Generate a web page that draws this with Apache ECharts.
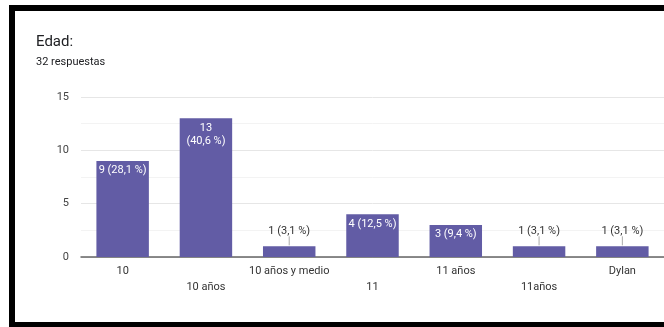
<!DOCTYPE html>
<html>
<head>
<meta charset="utf-8">
<script src="https://cdn.jsdelivr.net/npm/echarts@6/dist/echarts.min.js"></script>
<style>
  html, body { margin: 0; padding: 0; background: #fff; overflow: hidden; }
  #chart { position: absolute; left: 0; top: 0; width: 664px; height: 327px; }
  #frame {
    position: absolute; left: 9px; top: 5px; width: 700px; height: 311px;
    border-top: 6px solid #000; border-left: 6px solid #000; border-bottom: 5px solid #000;
    pointer-events: none;
  }
</style>
</head>
<body>
<div id="chart"></div>
<div id="frame"></div>
<script>
// respuestas por edad
const Categorias = ['10', '10 años', '10 años y medio', '11', '11 años', '11años', 'Dylan'];
const Respuestas = [9, 13, 1, 4, 3, 1, 1];
const Total = 32;

function etiqueta(v) {
  const pct = (v / Total * 100).toFixed(1).replace('.', ',');
  return v + ' (' + pct + ' %)';
}

function renderChart() {
  const dom = document.getElementById('chart');
  const chart = echarts.init(dom);
  const option = {
    textStyle: { fontFamily: 'Roboto, Arial, sans-serif' },
    title: {
      left: 36,
      top: 35,
      padding: 0,
      text: 'Edad:',
      textStyle: { fontSize: 15, fontWeight: 'normal', color: '#202124' },
      subtext: '32 respuestas',
      subtextStyle: { fontSize: 11, color: '#202124' },
      itemGap: 7,
    },
    grid: {
      left: 81,
      top: 97,
      width: 590,
      height: 160,
    },
    xAxis: {
      type: 'category',
      data: Categorias,
      axisLine: { lineStyle: { color: '#666', width: 1.5 } },
      axisTick: { show: false },
      axisLabel: {
        interval: 0,
        color: '#333',
        fontSize: 11,
        lineHeight: 16,
        margin: 6,
        formatter: (v, i) => (i % 2 ? '\n' + v : v),
      },
    },
    yAxis: {
      type: 'value',
      min: 0,
      max: 15,
      interval: 5,
      axisLabel: { color: '#444', fontSize: 11, margin: 12 },
      splitLine: { lineStyle: { color: '#e6e6e6' } },
      minorTick: { show: false, splitNumber: 2 },
      minorSplitLine: { show: true, lineStyle: { color: '#f3f3f3' } },
    },
    series: [
      {
        type: 'bar',
        data: Respuestas,
        barWidth: '63%',
        itemStyle: { color: '#625ca5' },
        label: {
          show: true,
          position: 'insideTop',
          distance: 3,
          color: '#fff',
          fontSize: 11,
          lineHeight: 13,
          formatter: (p) => {
            if (p.value <= 1) return '';
            const s = etiqueta(p.value);
            return p.value >= 10 ? s.replace(' (', '\n(') : s;
          },
        },
      },
      {
        // etiquetas externas con línea guía para barras pequeñas
        type: 'custom',
        data: Respuestas.map((v, i) => [i, v]),
        z: 5,
        silent: true,
        renderItem: (params, api) => {
          const v = api.value(1);
          if (v > 1) return null;
          const p = api.coord([api.value(0), v]);
          return {
            type: 'group',
            children: [
              {
                type: 'line',
                shape: { x1: p[0], y1: p[1] - 1, x2: p[0], y2: p[1] - 10 },
                style: { stroke: '#aaa', lineWidth: 1 },
              },
              {
                type: 'text',
                style: {
                  x: p[0],
                  y: p[1] - 15,
                  text: etiqueta(v),
                  fill: '#333',
                  fontSize: 11,
                  fontFamily: 'Roboto, Arial, sans-serif',
                  align: 'center',
                  verticalAlign: 'middle',
                },
              },
            ],
          };
        },
      },
    ],
  };
  chart.setOption(option, true);
}
renderChart();
</script>
</body>
</html>
